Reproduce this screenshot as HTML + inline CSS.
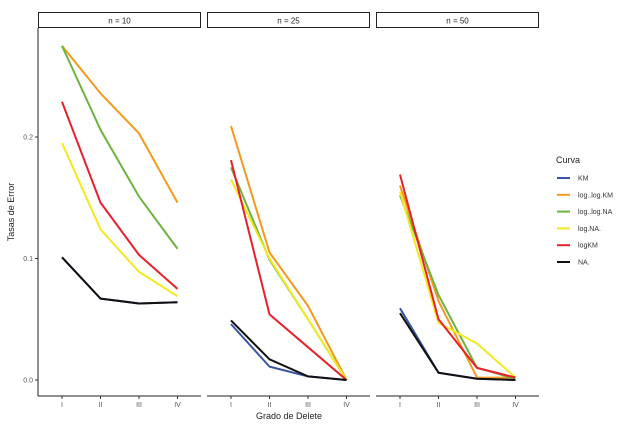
<!DOCTYPE html>
<html><head><meta charset="utf-8"><style>
body{margin:0;background:#fff;}
text{font-family:"Liberation Sans",sans-serif;}
</style></head><body>
<svg id="chart" width="624" height="434" viewBox="0 0 624 434">
<g id="g"></g>
</svg>
<script>
const categories=["I","II","III","IV"];
const panels=["n = 10","n = 25","n = 50"];
const seriesNames=["KM","log..log.KM","log..log.NA","log.NA.","logKM","NA."];
const colors=["#3a55a4","#f39a1e","#6db33f","#f2ea1d","#e8202a","#111111"];
const yTicks=[0,0.1,0.2];
const yTickLabels=["0.0","0.1","0.2"];
const km=[[0.101,0.067,0.063,0.064],[0.046,0.011,0.003,0.0],[0.059,0.006,0.001,0.0]];
const loglogKM=[[0.275,0.236,0.203,0.146],[0.209,0.105,0.061,0.0],[0.16,0.065,0.002,0.002]];
const loglogNA=[[0.275,0.206,0.151,0.108],[0.175,0.099,0.05,0.0],[0.152,0.07,0.01,0.001]];
const logNA=[[0.195,0.124,0.089,0.069],[0.165,0.1,0.05,0.0],[0.155,0.047,0.03,0.002]];
const logKM=[[0.229,0.146,0.103,0.075],[0.181,0.054,0.027,0.0],[0.169,0.05,0.01,0.002]];
const na=[[0.101,0.067,0.063,0.064],[0.049,0.017,0.003,0.0],[0.055,0.006,0.001,0.0]];
const drawOrder=[1,2,3,4,0,5];
const allSeries=[km,loglogKM,loglogNA,logNA,logKM,na];
const ns="http://www.w3.org/2000/svg";
const g=document.getElementById('g');
function el(t,a,p){const e=document.createElementNS(ns,t);for(const k in a)e.setAttribute(k,a[k]);(p||g).appendChild(e);return e;}
const panelX=[38,207,376],panelW=163,plotTop=28,plotBottom=396;
function yScale(v){return 380-v*1215;}
function xScale(p,i){return panelX[p]+24+i*38.5;}
panels.forEach((lab,p)=>{
  const x0=panelX[p];
  const s=el('rect',{x:x0+0.5,y:12.5,width:panelW-1,height:15,fill:'#fff',stroke:'#222','stroke-width':1});
  
  
  const t=el('text',{x:x0+panelW/2,y:23.5,'text-anchor':'middle','font-size':8,fill:'#222'});t.textContent=lab;
  
  
  const ax=el('line',{x1:x0,x2:x0+panelW,y1:plotBottom,y2:plotBottom,stroke:'#222','stroke-width':1});
  
  
  categories.forEach((c,i)=>{
    const x=xScale(p,i);
    el('line',{x1:x,x2:x,y1:plotBottom,y2:plotBottom+3,stroke:'#333','stroke-width':1});
    const tl=el('text',{x:x,y:407,'text-anchor':'middle','font-size':7,fill:'#555'});tl.textContent=c;
    
    
  });
  drawOrder.forEach(si=>{
    const d=allSeries[si][p].map((v,i)=>(i?'L':'M')+xScale(p,i)+','+yScale(v)).join(' ');
    const pa=el('path',{d:d,fill:'none',stroke:colors[si],'stroke-width':2,'stroke-linejoin':'round'});
    
    
  });
});
const ya=el('line',{x1:38,x2:38,y1:plotTop,y2:plotBottom,stroke:'#222','stroke-width':1});


yTicks.forEach((v,i)=>{
  const y=yScale(v);
  el('line',{x1:35,x2:38,y1:y,y2:y,stroke:'#333','stroke-width':1});
  const t=el('text',{x:33,y:y+2.5,'text-anchor':'end','font-size':7,fill:'#555'});t.textContent=yTickLabels[i];
  
  
});
const yt=el('text',{x:14,y:212,'text-anchor':'middle','font-size':9,fill:'#222',transform:'rotate(-90 14 212)'});yt.textContent='Tasas de Error';


const xt=el('text',{x:289,y:419,'text-anchor':'middle','font-size':9,fill:'#222'});xt.textContent='Grado de Delete';


const lt=el('text',{x:556,y:163,'font-size':9,fill:'#222'});lt.textContent='Curva';


seriesNames.forEach((n,i)=>{
  const y=178+i*16.8;
  const lg=el('g',{});
  
  
  el('line',{x1:557,x2:570,y1:y,y2:y,stroke:colors[i],'stroke-width':2},lg);
  const t=el('text',{x:578,y:y+2.5,'font-size':7,fill:'#333'},lg);t.textContent=n;
});
</script>
</body></html>
